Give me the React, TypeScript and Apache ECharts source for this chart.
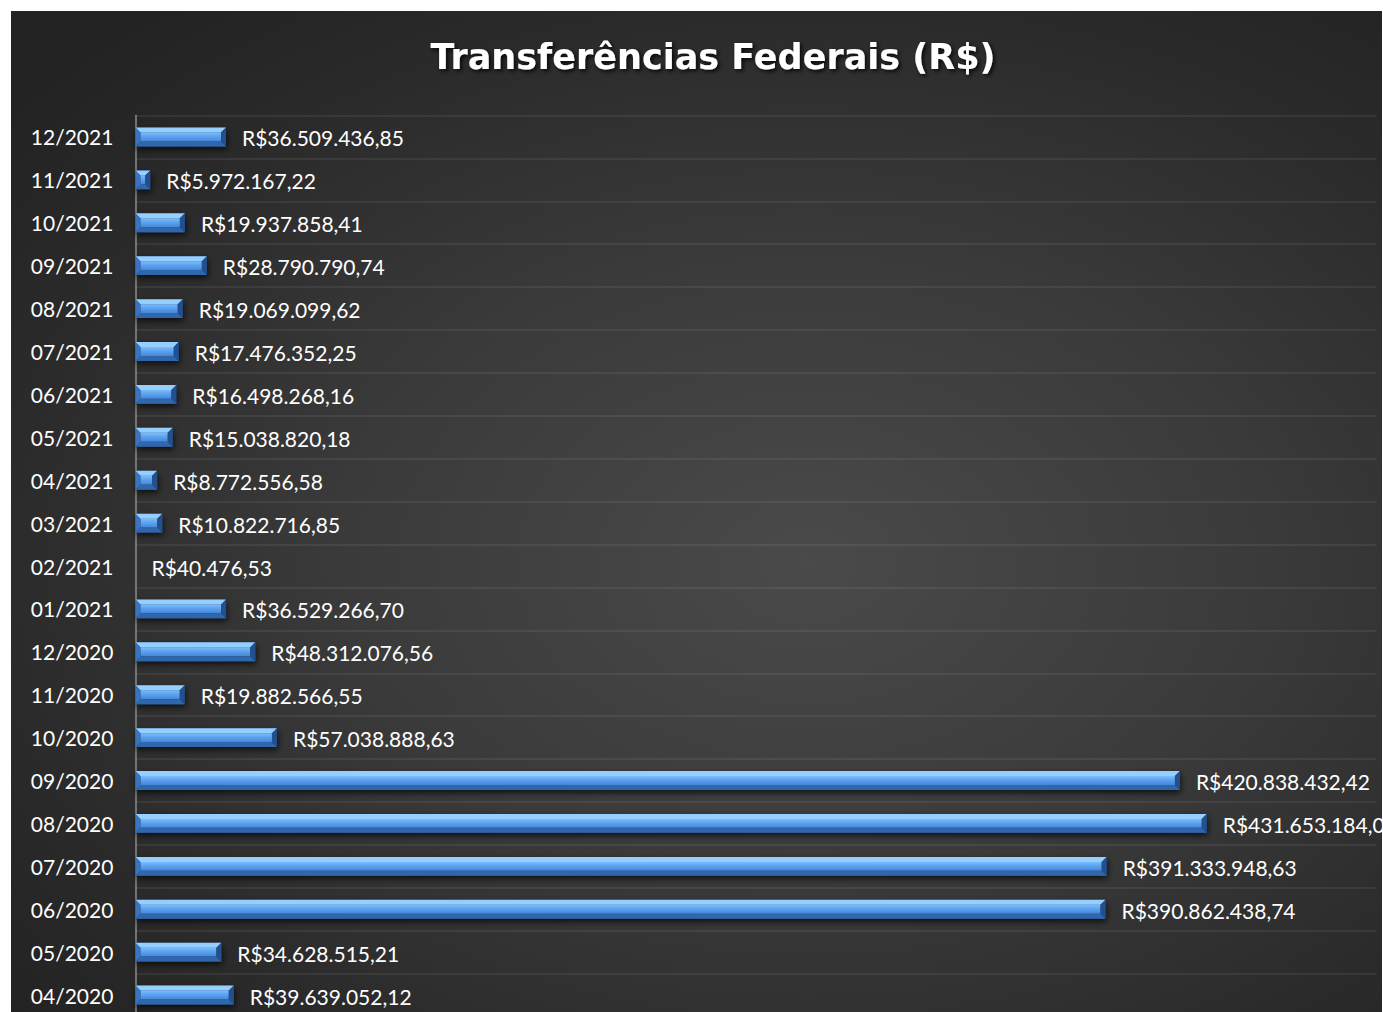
import React, { useEffect, useRef } from "react";
import * as echarts from "echarts";

const categories = [
  "12/2021", "11/2021", "10/2021", "09/2021", "08/2021", "07/2021", "06/2021",
  "05/2021", "04/2021", "03/2021", "02/2021", "01/2021", "12/2020", "11/2020",
  "10/2020", "09/2020", "08/2020", "07/2020", "06/2020", "05/2020", "04/2020",
];

const values = [
  36509436.85, 5972167.22, 19937858.41, 28790790.74, 19069099.62, 17476352.25,
  16498268.16, 15038820.18, 8772556.58, 10822716.85, 40476.53, 36529266.7,
  48312076.56, 19882566.55, 57038888.63, 420838432.42, 431653184.0,
  391333948.63, 390862438.74, 34628515.21, 39639052.12,
];

const titleText = "Transferências Federais (R$)";

function formatBRL(v: number): string {
  const fixed = v.toFixed(2);
  const [intPart, dec] = fixed.split(".");
  const grouped = intPart.replace(/\B(?=(\d{3})+(?!\d))/g, ".");
  return "R$" + grouped + "," + dec;
}

export default function App() {
  const ref = useRef<HTMLDivElement>(null);

  useEffect(() => {
    if (!ref.current) return;
    const chart = echarts.init(ref.current, undefined, { renderer: "svg" });

    const renderItem = (params: any, api: any) => {
      const val = api.value(0);
      const cat = api.value(1);
      const start = api.coord([0, cat]);
      const end = api.coord([val, cat]);
      const band = api.size([0, 1])[1];
      const h = band * 0.44;
      const x0 = start[0];
      const x1 = end[0];
      const y0 = end[1] - h / 2;
      const y1 = end[1] + h / 2;
      const w = Math.max(x1 - x0, 0);
      const b = Math.min(5, w / 2);
      const children: any[] = [];
      if (w > 0.5) {
        children.push({
          type: "rect",
          shape: { x: x0, y: y0, width: w, height: h },
          style: {
            fill: "#1f4478",
            shadowBlur: 6,
            shadowOffsetY: 3,
            shadowOffsetX: 1,
            shadowColor: "rgba(0,0,0,0.7)",
          },
        });
        children.push({
          type: "rect",
          shape: { x: x0 + b, y: y0 + b, width: Math.max(w - 2 * b, 0), height: h - 2 * b },
          style: {
            fill: new echarts.graphic.LinearGradient(0, 0, 0, 1, [
              { offset: 0, color: "#7cbdfb" },
              { offset: 0.45, color: "#5ca2ef" },
              { offset: 1, color: "#4686d8" },
            ]),
          },
        });
        children.push({
          type: "polygon",
          shape: { points: [[x0, y0], [x1, y0], [x1 - b, y0 + b], [x0 + b, y0 + b]] },
          style: { fill: "#95cfff" },
        });
        children.push({
          type: "polygon",
          shape: { points: [[x0, y1], [x1, y1], [x1 - b, y1 - b], [x0 + b, y1 - b]] },
          style: { fill: "#3066ab" },
        });
        children.push({
          type: "polygon",
          shape: { points: [[x0, y0], [x0 + b, y0 + b], [x0 + b, y1 - b], [x0, y1]] },
          style: { fill: "#3a74bf" },
        });
        children.push({
          type: "polygon",
          shape: { points: [[x1, y0], [x1 - b, y0 + b], [x1 - b, y1 - b], [x1, y1]] },
          style: { fill: "#234f8c" },
        });
      }
      children.push({
        type: "text",
        x: x1 + 16,
        y: end[1] + 1,
        style: {
          text: formatBRL(val),
          fill: "#ffffff",
          fontSize: 21,
          fontFamily: "Lato",
          align: "left",
          verticalAlign: "middle",
        },
      });
      return { type: "group", children };
    };

    chart.setOption({
      animation: false,
      title: {
        text: titleText,
        left: 697,
        top: 23,
        textAlign: "center",
        textStyle: {
          color: "#ffffff",
          fontSize: 35,
          fontWeight: "bold",
          fontFamily: "DejaVu Sans",
          textShadowColor: "rgba(0,0,0,0.85)",
          textShadowBlur: 4,
          textShadowOffsetX: 2,
          textShadowOffsetY: 2,
        },
      },
      grid: { left: 124.4, top: 104.5, width: 1241, height: 901, containLabel: false },
      xAxis: {
        type: "value",
        min: 0,
        max: 500000000,
        show: false,
        splitLine: { show: false },
      },
      yAxis: {
        type: "category",
        data: categories,
        inverse: true,
        axisLine: { show: true, lineStyle: { color: "#8c8c8c", width: 1.5 } },
        axisTick: { show: false },
        axisLabel: {
          color: "#ffffff",
          fontSize: 21,
          fontFamily: "Lato",
          margin: 22,
        },
        splitLine: {
          show: true,
          lineStyle: { color: "rgba(255,255,255,0.09)", width: 1.5 },
        },
      },
      series: [
        {
          type: "custom",
          renderItem,
          encode: { x: 0, y: 1 },
          data: values.map((v, i) => [v, categories[i]]),
        },
      ],
    });

    return () => chart.dispose();
  }, []);

  return (
    <div
      style={{
        position: "absolute",
        left: 11,
        top: 11,
        width: 1371,
        height: 1001,
        overflow: "hidden",
        background:
          "radial-gradient(ellipse 75% 70% at 58% 55%, #4a4a4a 0%, #3a3a3a 45%, #2a2a2a 80%, #232323 100%)",
      }}
    >
      <div ref={ref} style={{ width: 1371, height: 1020 }} />
    </div>
  );
}
